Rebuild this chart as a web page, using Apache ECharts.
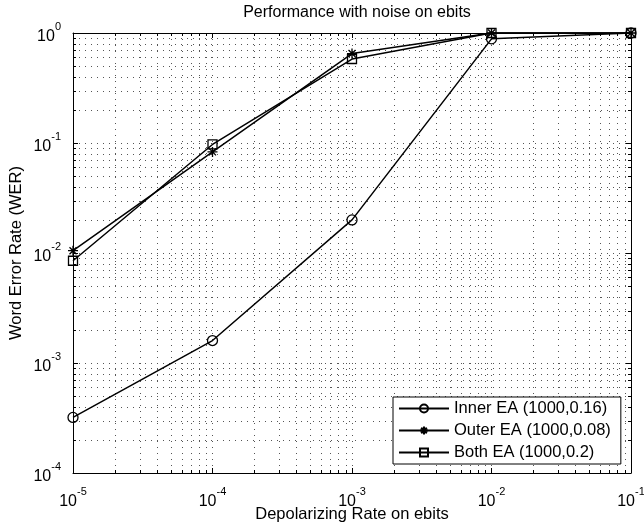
<!DOCTYPE html>
<html>
<head>
<meta charset="utf-8">
<script src="https://cdn.jsdelivr.net/npm/echarts@6/dist/echarts.min.js"></script>
<style>
  html, body { margin: 0; padding: 0; background: #fff; }
  #chart { width: 644px; height: 522px; }
</style>
</head>
<body>
<div id="chart"></div>
<script>
// Depolarizing rate on the ebits (x) and word error rate of each scheme (y)
const depolRates = [1e-5, 1e-4, 1e-3, 1e-2, 1e-1];
const innerWER = [3.2e-4, 1.6e-3, 0.020, 0.885, 1.0];
const outerWER = [0.0105, 0.083, 0.65, 1.0, 1.0];
const bothWER = [0.0085, 0.097, 0.58, 1.0, 1.0];
const seriesNames = ['Inner EA (1000,0.16)', 'Outer EA (1000,0.08)', 'Both EA (1000,0.2)'];

// Axis ranges (decades)
const xRange = [1e-5, 1e-1];
const yRange = [1e-4, 1];

// Minor log positions 2..9 within each decade
function minorTicks(lo, hi) {
  const out = [];
  for (let d = lo; d < hi; d *= 10) {
    for (let k = 2; k <= 9; k++) out.push(+(k * d).toPrecision(3));
  }
  return out;
}
const xMinor = minorTicks(xRange[0], xRange[1]);
const yMinor = minorTicks(yRange[0], yRange[1]);

const FONT = '"Liberation Sans", Arial, Helvetica, sans-serif';
const gridDots = { color: '#555', width: 1, type: [1, 5] };

function powLabel(v) {
  const e = Math.round(Math.log10(v));
  return '{b|10}{s|' + e + '}';
}
const richLabel = {
  b: { fontSize: 16, fontFamily: FONT, color: '#000', lineHeight: 24, verticalAlign: 'bottom' },
  s: { fontSize: 11, fontFamily: FONT, color: '#000', lineHeight: 12, verticalAlign: 'top' }
};

// Asterisk marker drawn as strokes
const asterisk = 'path://M5 0L5 10M0 5L10 5M1.5 1.5L8.5 8.5M8.5 1.5L1.5 8.5';

function lineSeries(name, values, symbol, size) {
  return {
    name: name,
    type: 'line',
    data: depolRates.map((x, i) => [x, values[i]]),
    symbol: symbol,
    symbolSize: size,
    showAllSymbol: true,
    clip: false,
    z: 5,
    lineStyle: { color: '#000', width: 1.5 },
    itemStyle: { color: 'rgba(255,255,255,0)', borderColor: '#000', borderWidth: 1.3 },
    emphasis: { disabled: true },
    animation: false
  };
}

// Minor grid lines and inward minor ticks on all four edges
function minorSeries(values, dir) {
  return {
    type: 'custom',
    silent: true,
    z: 1,
    clip: false,
    animation: false,
    data: values.map(v => dir === 'x' ? [v, 1e-2] : [1e-3, v]),
    renderItem: function (params, api) {
      const cs = params.coordSys;
      const p = api.coord([api.value(0), api.value(1)]);
      const tl = 3;
      const children = [];
      if (dir === 'x') {
        const x = Math.round(p[0]) + 0.5;
        children.push({ type: 'line', shape: { x1: x, y1: cs.y, x2: x, y2: cs.y + cs.height }, style: { stroke: gridDots.color, lineWidth: 1, lineDash: gridDots.type } });
        children.push({ type: 'line', shape: { x1: x, y1: cs.y + cs.height, x2: x, y2: cs.y + cs.height - tl }, style: { stroke: '#000', lineWidth: 1 } });
        children.push({ type: 'line', shape: { x1: x, y1: cs.y, x2: x, y2: cs.y + tl }, style: { stroke: '#000', lineWidth: 1 } });
      } else {
        const y = Math.round(p[1]) + 0.5;
        children.push({ type: 'line', shape: { x1: cs.x, y1: y, x2: cs.x + cs.width, y2: y }, style: { stroke: gridDots.color, lineWidth: 1, lineDash: gridDots.type } });
        children.push({ type: 'line', shape: { x1: cs.x, y1: y, x2: cs.x + tl, y2: y }, style: { stroke: '#000', lineWidth: 1 } });
        children.push({ type: 'line', shape: { x1: cs.x + cs.width, y1: y, x2: cs.x + cs.width - tl, y2: y }, style: { stroke: '#000', lineWidth: 1 } });
      }
      return { type: 'group', children: children };
    }
  };
}

const chart = echarts.init(document.getElementById('chart'), null, { renderer: 'canvas' });

const baseX = {
  type: 'log', logBase: 10, min: xRange[0], max: xRange[1],
  axisLine: { show: true, onZero: false, lineStyle: { color: '#000', width: 1 } },
  axisTick: { show: true, inside: true, length: 5, lineStyle: { color: '#000' } },
  minorTick: { show: false },
  splitLine: { show: true, lineStyle: gridDots }
};
const baseY = {
  type: 'log', logBase: 10, min: yRange[0], max: yRange[1],
  axisLine: { show: true, onZero: false, lineStyle: { color: '#000', width: 1 } },
  axisTick: { show: true, inside: true, length: 5, lineStyle: { color: '#000' } },
  minorTick: { show: false },
  splitLine: { show: true, lineStyle: gridDots }
};

chart.setOption({
  backgroundColor: '#fff',
  animation: false,
  title: {
    text: 'Performance with noise on ebits',
    left: 352, top: 0, textAlign: 'center',
    textStyle: { fontFamily: FONT, fontSize: 16, fontWeight: 'normal', color: '#000' }
  },
  grid: { left: 73, right: 13, top: 33, bottom: 49, containLabel: false, outerBoundsMode: 'none' },
  legend: {
    orient: 'vertical',
    left: 393, top: 397,
    data: seriesNames,
    itemWidth: 50, itemHeight: 10, itemGap: 5,
    padding: [3, 10, 3, 5],
    backgroundColor: '#fff',
    borderColor: '#000', borderWidth: 1, borderRadius: 0,
    textStyle: { fontFamily: FONT, fontSize: 16.5, color: '#000' },
    selectedMode: false
  },
  xAxis: [
    Object.assign({}, baseX, {
      position: 'bottom',
      name: 'Depolarizing Rate on ebits', nameLocation: 'middle', nameGap: 32.5,
      nameMoveOverlap: false,
      nameTextStyle: { fontFamily: FONT, fontSize: 16.5, color: '#000' },
      axisLabel: { show: true, margin: 13, formatter: powLabel, rich: richLabel }
    }),
    Object.assign({}, baseX, {
      position: 'top',
      axisLabel: { show: false },
      splitLine: { show: false }
    })
  ],
  yAxis: [
    Object.assign({}, baseY, {
      position: 'left',
      name: 'Word Error Rate (WER)', nameLocation: 'middle', nameGap: 48,
      nameMoveOverlap: false,
      nameTextStyle: { fontFamily: FONT, fontSize: 16.5, color: '#000' },
      axisLabel: { show: true, margin: 12, formatter: powLabel, rich: richLabel }
    }),
    Object.assign({}, baseY, {
      position: 'right',
      axisLabel: { show: false },
      splitLine: { show: false }
    })
  ],
  series: [
    minorSeries(xMinor, 'x'),
    minorSeries(yMinor, 'y'),
    lineSeries(seriesNames[0], innerWER, 'circle', 10),
    lineSeries(seriesNames[1], outerWER, asterisk, 10),
    lineSeries(seriesNames[2], bothWER, 'rect', 9)
  ]
});
</script>
</body>
</html>
